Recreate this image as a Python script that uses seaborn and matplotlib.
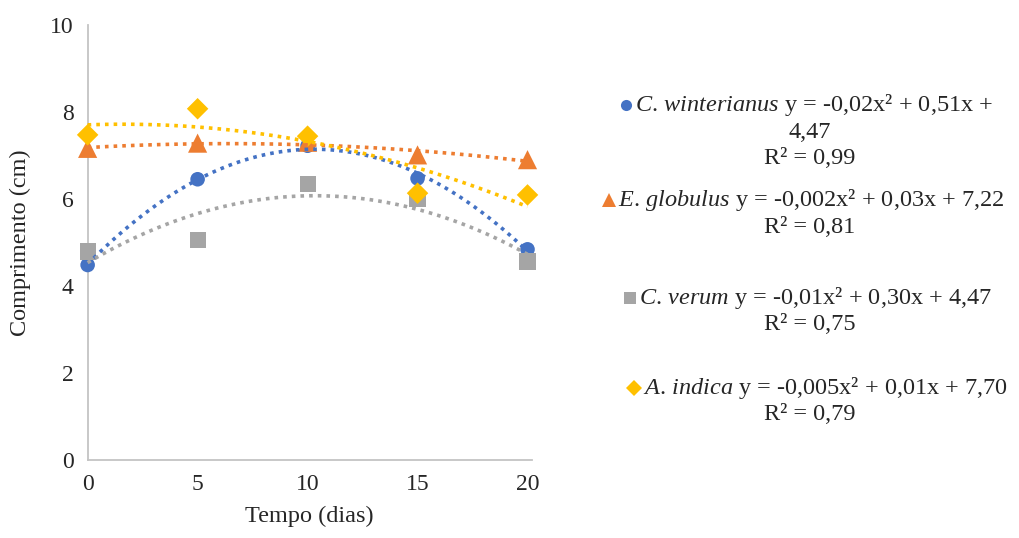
import numpy as np
import pandas as pd
import matplotlib
matplotlib.use("Agg")
import matplotlib.pyplot as plt
import seaborn as sns
from matplotlib.lines import Line2D

# Data
dias = [0, 5, 10, 15, 20]
winterianus = [4.48, 6.45, 7.22, 6.47, 4.84]
globulus = [7.16, 7.28, 7.30, 7.01, 6.90]
verum = [4.79, 5.06, 6.34, 6.00, 4.56]
indica = [7.47, 8.07, 7.44, 6.13, 6.09]

nomes = ["C. winterianus", "E. globulus", "C. verum", "A. indica"]
cores = ["#4472C4", "#ED7D31", "#A5A5A5", "#FFC000"]
marcadores = ["o", "^", "s", "D"]
tamanhos = [110, 190, 135, 120]
equacoes = [
    ["y = -0,02x\u00b2 + 0,51x +", "4,47", "R\u00b2 = 0,99"],
    ["y = -0,002x\u00b2 + 0,03x + 7,22", "R\u00b2 = 0,81"],
    ["y = -0,01x\u00b2 + 0,30x + 4,47", "R\u00b2 = 0,75"],
    ["y = -0,005x\u00b2 + 0,01x + 7,70", "R\u00b2 = 0,79"],
]

df = pd.DataFrame({"Tempo": dias * 4,
                   "Comprimento": winterianus + globulus + verum + indica,
                   "Especie": sum([[n] * len(dias) for n in nomes], [])})

sns.set_style("white")
plt.rcParams["font.family"] = ["Liberation Serif", "DejaVu Serif"]
plt.rcParams["mathtext.fontset"] = "custom"
plt.rcParams["mathtext.it"] = "Liberation Serif:italic"
plt.rcParams["mathtext.rm"] = "Liberation Serif"

fig = plt.figure(figsize=(10.19, 5.38), dpi=100)
ax = fig.add_axes([0.086, 0.145, 0.436, 0.809])

# markers first, then the dotted polynomial trendlines on top
for nome, cor, m, s in zip(nomes, cores, marcadores, tamanhos):
    sub = df[df["Especie"] == nome]
    sns.scatterplot(data=sub, x="Tempo", y="Comprimento", color=cor, marker=m,
                    s=s, edgecolor="none", ax=ax, clip_on=False, zorder=3)
for nome, cor in zip(nomes, cores):
    sub = df[df["Especie"] == nome]
    sns.regplot(data=sub, x="Tempo", y="Comprimento", order=2, ci=None,
                scatter=False, ax=ax,
                line_kws=dict(color=cor, lw=2.6, linestyle=(0, (1, 1.4)),
                              zorder=4, clip_on=False))

ax.set_xlim(0, 20.2)
ax.set_ylim(0, 10)
ax.set_xticks([0, 5, 10, 15, 20])
ax.set_yticks([0, 2, 4, 6, 8, 10])
ax.tick_params(axis="both", length=0, labelsize=17, pad=10)
for lado in ["top", "right"]:
    ax.spines[lado].set_visible(False)
for lado in ["left", "bottom"]:
    ax.spines[lado].set_color("#C4C4C4")
    ax.spines[lado].set_linewidth(1.3)
ax.set_xlabel("Tempo (dias)", fontsize=17.5, labelpad=8)
ax.set_ylabel("Comprimento (cm)", fontsize=17.5, labelpad=14)

# legend with trendline equations (manual, like Excel)
W, H = 1019, 538
topos = [105, 200, 298, 388]
esquerdas = [626, 609, 630, 634]
for i, (nome, cor, m, eq) in enumerate(zip(nomes, cores, marcadores, equacoes)):
    y0 = topos[i]
    x0 = esquerdas[i]
    fig.add_artist(Line2D([x0 / W], [1 - y0 / H], marker=m, color=cor,
                          markersize=8 if m != "^" else 10, linestyle="none",
                          markeredgewidth=0, transform=fig.transFigure))
    especie = r"$\it{" + nome.replace(" ", r"\,") + "}$"
    fig.text((x0 + 9) / W, 1 - y0 / H, especie + " " + eq[0], fontsize=17.5,
             ha="left", va="center")
    for k, linha in enumerate(eq[1:]):
        fig.text(810 / W, 1 - (y0 + 27 * (k + 1)) / H, linha, fontsize=17.5,
                 ha="center", va="center")

fig.savefig("out.png", dpi=100)
